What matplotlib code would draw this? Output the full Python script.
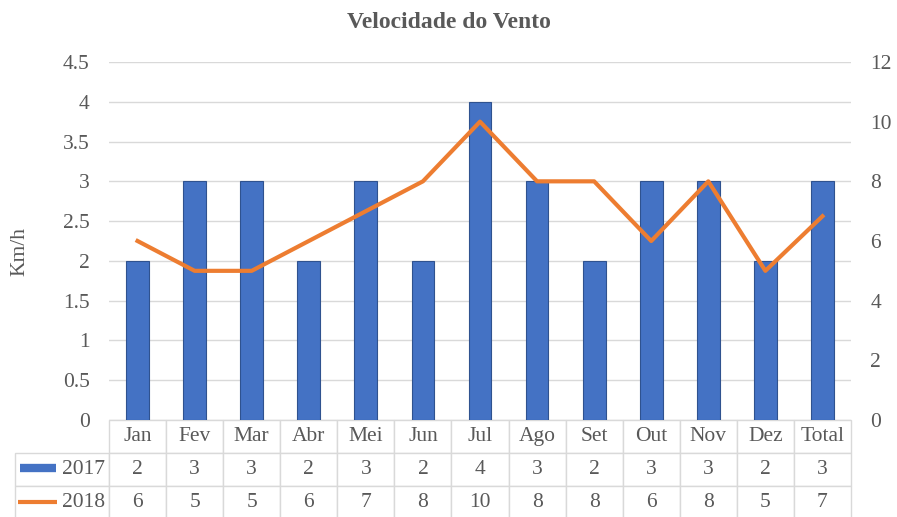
import matplotlib
matplotlib.use("Agg")
import matplotlib.pyplot as plt
from matplotlib.lines import Line2D

meses = ["Jan", "Fev", "Mar", "Abr", "Mei", "Jun", "Jul",
         "Ago", "Set", "Out", "Nov", "Dez", "Total"]
v2017 = [2, 3, 3, 2, 3, 2, 4, 3, 2, 3, 3, 2, 3]
v2018 = [6, 5, 5, 6, 7, 8, 10, 8, 8, 6, 8, 5, 6.83]

BLUE = "#4472C4"
ORANGE = "#ED7D31"
TXT = "#595959"
GRID = "#D9D9D9"
FS = 15.5

plt.rcParams["font.family"] = ["Liberation Serif", "DejaVu Serif"]

fig = plt.figure(figsize=(8.97, 5.17), dpi=100)
ax = fig.add_axes([109 / 897, 1 - 420 / 517, 742 / 897, 358 / 517])
ax2 = ax.twinx()

x = range(len(meses))
ax.bar(x, v2017, width=0.4, color=BLUE, edgecolor="#2F528F", linewidth=0.8, zorder=2)
ax2.plot(x, v2018, color=ORANGE, linewidth=3, zorder=3)

ax.set_xlim(-0.5, len(meses) - 0.5)
ax.set_ylim(0, 4.5)
ax.set_yticks([i * 0.5 for i in range(10)])
ax.set_yticklabels(["0", "0.5", "1", "1.5", "2", "2.5", "3", "3.5", "4", "4.5"])
ax2.set_ylim(0, 12)
ax2.set_yticks(range(0, 13, 2))
ax.set_xticks([])

ax.grid(axis="y", color=GRID, linewidth=1)
ax.set_axisbelow(True)
for a in (ax, ax2):
    for s in a.spines.values():
        s.set_visible(False)
    a.tick_params(axis="y", length=0, labelsize=FS, colors=TXT, pad=14)
ax.set_ylabel("Km/h", fontsize=FS, color=TXT)
ax.yaxis.set_label_coords(-0.107, 0.47)

fig.text(0.5, 1 - 22 / 517, "Velocidade do Vento", ha="center", va="center",
         fontsize=17, fontweight="bold", color=TXT)

# data table under the plot
n = len(meses)
col0 = 94 / 742
cw = 1.0 / n
rh = 33 / 358
cells = [[""] + meses,
         ["2017"] + [str(v) for v in v2017],
         ["2018"] + [str(round(v)) for v in v2018]]
tab = ax.table(cellText=cells, cellLoc="center",
               bbox=[-col0, -3 * rh, 1 + col0, 3 * rh])
tab.auto_set_font_size(False)
for (r, c), cell in tab.get_celld().items():
    cell.set_width(col0 if c == 0 else cw)
    cell.set_edgecolor(GRID)
    cell.set_linewidth(1)
    cell.get_text().set_color(TXT)
    cell.get_text().set_fontsize(FS)
    if c == 0:
        cell._loc = "right"
        cell.PAD = 0.04
        cell.get_text().set_horizontalalignment("right")
    if r == 0 and c == 0:
        cell.set_visible(False)

# legend keys in the row header cells
y17 = 1 - 468 / 517
y18 = 1 - 502 / 517
fig.add_artist(Line2D([20 / 897, 56 / 897], [y17, y17], color=BLUE, linewidth=6,
                      solid_capstyle="butt", transform=fig.transFigure))
fig.add_artist(Line2D([18 / 897, 57 / 897], [y18, y18], color=ORANGE, linewidth=3,
                      solid_capstyle="butt", transform=fig.transFigure))

fig.savefig("out.png", dpi=100, facecolor="white")
